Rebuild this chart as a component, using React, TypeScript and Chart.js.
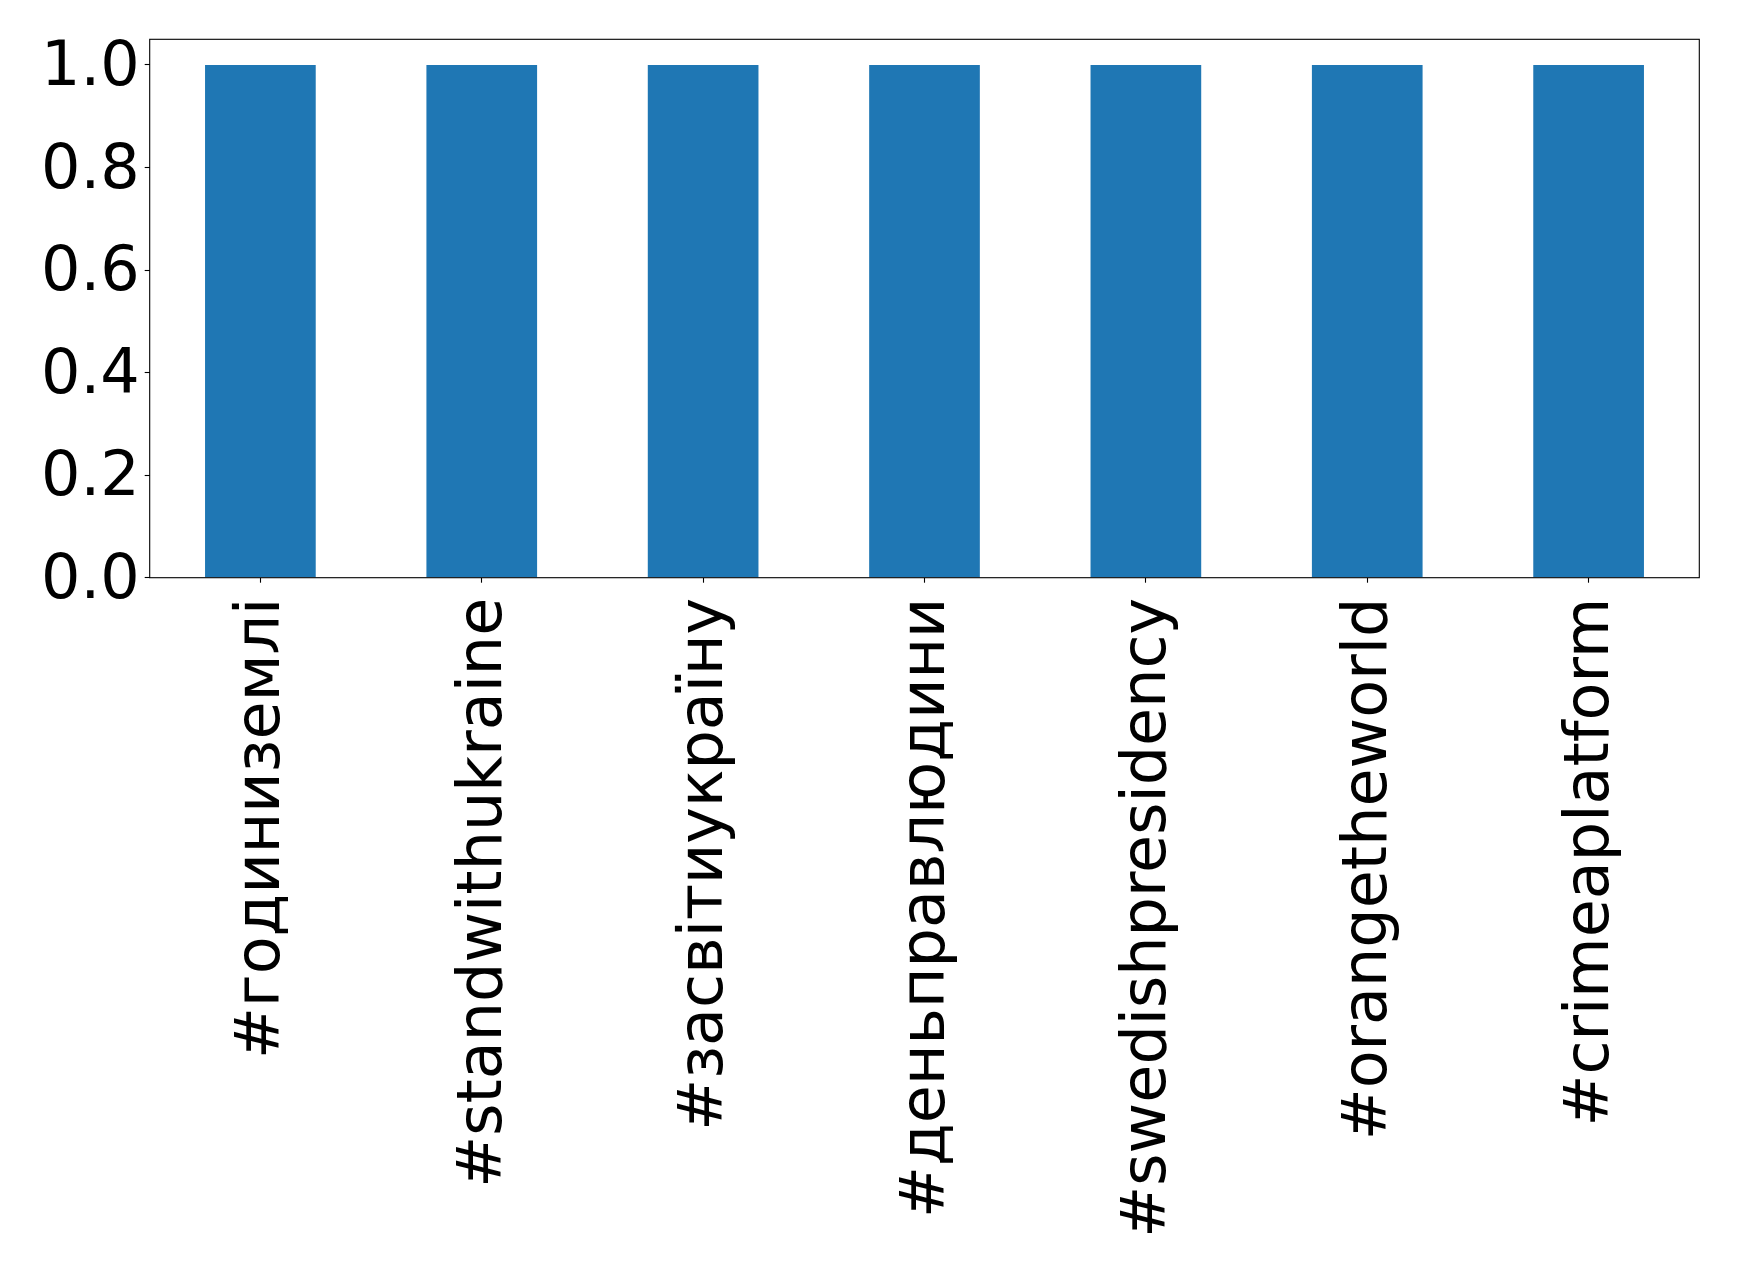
import React, { useEffect, useRef } from "react";
import { Chart, registerables } from "chart.js";

Chart.register(...registerables);

const CATEGORIES: string[] = [
  "#годиниземлі",
  "#standwithukraine",
  "#засвітиукраїну",
  "#деньправлюдини",
  "#swedishpresidency",
  "#orangetheworld",
  "#crimeaplatform",
];
const VALUES: number[] = [1, 1, 1, 1, 1, 1, 1];
const Y_TICKS: number[] = [0, 0.2, 0.4, 0.6, 0.8, 1.0];
const Y_MIN = 0;
const Y_MAX = 1.05;

const W = 1739;
const H = 1273;
const PLOT_LEFT = 149.7;
const PLOT_RIGHT = 1699.3;
const PLOT_TOP = 39.3;
const PLOT_BOTTOM = 577.7;
const FONT = "'DejaVu Sans', 'Noto Sans', sans-serif";
const FONT_SIZE = 62;
const BAR_COLOR = "#1f77b4";

const framePlugin = {
  id: "frame",
  afterDatasetsDraw(chart: any) {
    const { ctx, chartArea } = chart;
    ctx.save();
    ctx.strokeStyle = "#000";
    ctx.lineWidth = 1.1;
    ctx.strokeRect(
      chartArea.left,
      chartArea.top,
      chartArea.right - chartArea.left,
      chartArea.bottom - chartArea.top
    );
    ctx.restore();
  },
};

export default function App() {
  const ref = useRef<HTMLCanvasElement | null>(null);

  useEffect(() => {
    if (!ref.current) return;
    const chart = new Chart(ref.current, {
      type: "bar",
      data: {
        labels: CATEGORIES,
        datasets: [
          {
            data: VALUES,
            backgroundColor: BAR_COLOR,
            borderWidth: 0,
            barPercentage: 0.5,
            categoryPercentage: 1.0,
          },
        ],
      },
      options: {
        responsive: false,
        animation: false,
        devicePixelRatio: 1,
        layout: {
          padding: {
            top: PLOT_TOP,
            right: W - PLOT_RIGHT,
            left: 0,
            bottom: 0,
          },
        },
        plugins: {
          legend: { display: false },
          tooltip: { enabled: false },
        },
        scales: {
          x: {
            offset: true,
            border: { display: false },
            grid: {
              offset: false,
              drawOnChartArea: false,
              drawTicks: true,
              tickLength: 5,
              tickWidth: 1.1,
              tickColor: "#000",
            },
            ticks: {
              autoSkip: false,
              minRotation: 90,
              maxRotation: 90,
              padding: 15,
              labelOffset: 3,
              color: "#000",
              font: { family: FONT, size: FONT_SIZE, lineHeight: 1 },
            },
            afterFit(scale: any) {
              scale.height = H - PLOT_BOTTOM;
              scale.paddingLeft = 0;
              scale.paddingRight = 0;
              scale.paddingTop = 0;
              scale.paddingBottom = 0;
            },
          },
          y: {
            min: Y_MIN,
            max: Y_MAX,
            border: { display: false },
            grid: {
              drawOnChartArea: false,
              drawTicks: true,
              tickLength: 5,
              tickWidth: 1.1,
              tickColor: "#000",
            },
            ticks: {
              padding: 5,
              labelOffset: 4,
              color: "#000",
              font: { family: FONT, size: FONT_SIZE, lineHeight: 1 },
              callback: (v: any) => Number(v).toFixed(1),
            },
            afterBuildTicks(scale: any) {
              scale.ticks = Y_TICKS.map((v) => ({ value: v }));
            },
            afterFit(scale: any) {
              scale.width = PLOT_LEFT;
              scale.paddingLeft = 0;
              scale.paddingRight = 0;
              scale.paddingTop = 0;
              scale.paddingBottom = 0;
            },
          },
        },
      },
      plugins: [framePlugin],
    });
    return () => chart.destroy();
  }, []);

  return (
    <div
      style={{
        position: "fixed",
        left: 0,
        top: 0,
        width: W,
        height: H,
        background: "#fff",
      }}
    >
      <canvas ref={ref} width={W} height={H} style={{ width: W, height: H, display: "block" }} />
    </div>
  );
}
